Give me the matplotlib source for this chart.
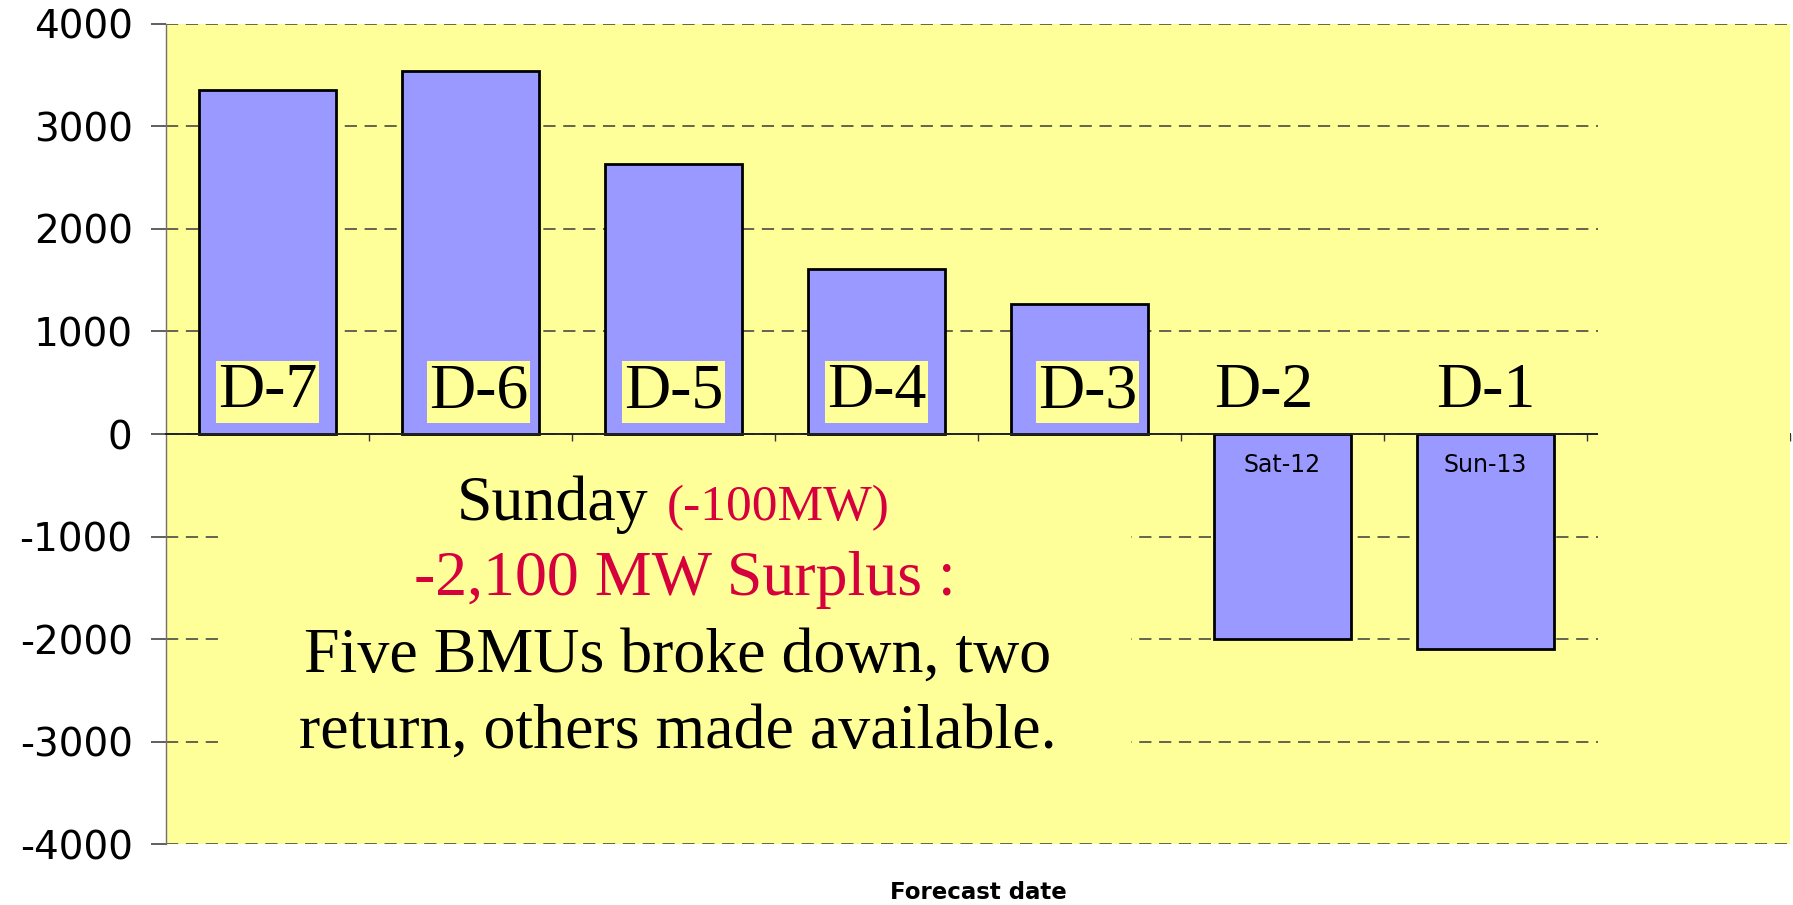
import numpy as np
import matplotlib
matplotlib.use('Agg')
import matplotlib.pyplot as plt
from matplotlib.patches import Rectangle

# Forecast margin (MW) by forecast day
days = ['D-7', 'D-6', 'D-5', 'D-4', 'D-3', 'D-2', 'D-1']
margin_mw = [3360, 3545, 2635, 1610, 1270, -2000, -2100]
date_labels = ['', '', '', '', '', 'Sat-12', 'Sun-13']
y_ticks = [-4000, -3000, -2000, -1000, 0, 1000, 2000, 3000, 4000]

note_lines = ['-2,100 MW Surplus :',
              'Five BMUs broke down, two',
              'return, others made available.']

YELLOW = '#FFFF99'
BAR = '#9999FF'
RED = '#D6003C'
SERIF = 'Liberation Serif'

plt.rcParams['axes.unicode_minus'] = False
plt.rcParams['font.family'] = 'DejaVu Sans'

W, H = 1793, 905
fx = lambda px: px / W
fy = lambda py: 1 - py / H

fig = plt.figure(figsize=(W / 100, H / 100), dpi=100)
ax = fig.add_axes([fx(166), 61 / H, 1624 / W, 820 / H])
ax.set_facecolor(YELLOW)

x = np.arange(len(days))
ax.bar(x, margin_mw, width=0.67, color=BAR, edgecolor='black', linewidth=2, zorder=2)

ax.set_xlim(-0.5, 7.5)
ax.set_ylim(-4000, 4000)
ax.set_yticks(y_ticks)
ax.set_xticks(np.arange(0.5, 8, 1))
ax.set_xticklabels([])

ax.yaxis.grid(True, linestyle=(0, (8, 5)), color='#3a3a3a', linewidth=1.1)
ax.set_axisbelow(True)
ax.tick_params(axis='y', length=11, width=1.2, color='#444444', labelsize=28, pad=13)
ax.tick_params(axis='x', direction='out', length=5, width=1, color='#333333')

ax.spines['top'].set_visible(False)
ax.spines['right'].set_visible(False)
ax.spines['left'].set_color('#707070')
ax.spines['left'].set_linewidth(1)
ax.spines['bottom'].set_position(('data', 0))
ax.spines['bottom'].set_color('#222222')
ax.spines['bottom'].set_linewidth(1.4)

# yellow boxes that hide the gridlines (text box and right panel)
ax.add_patch(Rectangle((0.0345, 0.05), 0.56, 0.40, transform=ax.transAxes,
                       facecolor=YELLOW, edgecolor='none', zorder=1))
ax.add_patch(Rectangle((0.882, 0.004), 0.118, 0.992, transform=ax.transAxes,
                       facecolor=YELLOW, edgecolor='none', zorder=2.7))

# day labels inside the bars
nudge = [0, 0.04, 0, 0, 0.04, -0.09, 0]
for xi, d, dx in zip(x, days, nudge):
    ax.text(xi + dx, 263, d, ha='center', va='baseline', fontsize=46, family=SERIF,
            bbox=dict(boxstyle='square,pad=0.03', fc=YELLOW, ec='none'), zorder=3)

for xi, lab in zip(x, date_labels):
    if lab:
        ax.text(xi, -300, lab, ha='center', va='center', fontsize=17, zorder=3)

ax.set_xlabel('Forecast date', fontsize=16.5, fontweight='bold')
ax.xaxis.set_label_coords(0.5, -0.045)

# annotation text
fig.text(fx(648), fy(520), 'Sunday', ha='right', va='baseline', fontsize=46,
         family=SERIF, color='black')
fig.text(fx(667), fy(520), '(-100MW)', ha='left', va='baseline', fontsize=37,
         family=SERIF, color=RED)
fig.text(fx(685), fy(595), note_lines[0], ha='center', va='baseline', fontsize=46,
         family=SERIF, color=RED)
fig.text(fx(678), fy(672), note_lines[1], ha='center', va='baseline', fontsize=46,
         family=SERIF, color='black')
fig.text(fx(678), fy(748), note_lines[2], ha='center', va='baseline', fontsize=46,
         family=SERIF, color='black')

fig.savefig('out.png', dpi=100, facecolor='white')
